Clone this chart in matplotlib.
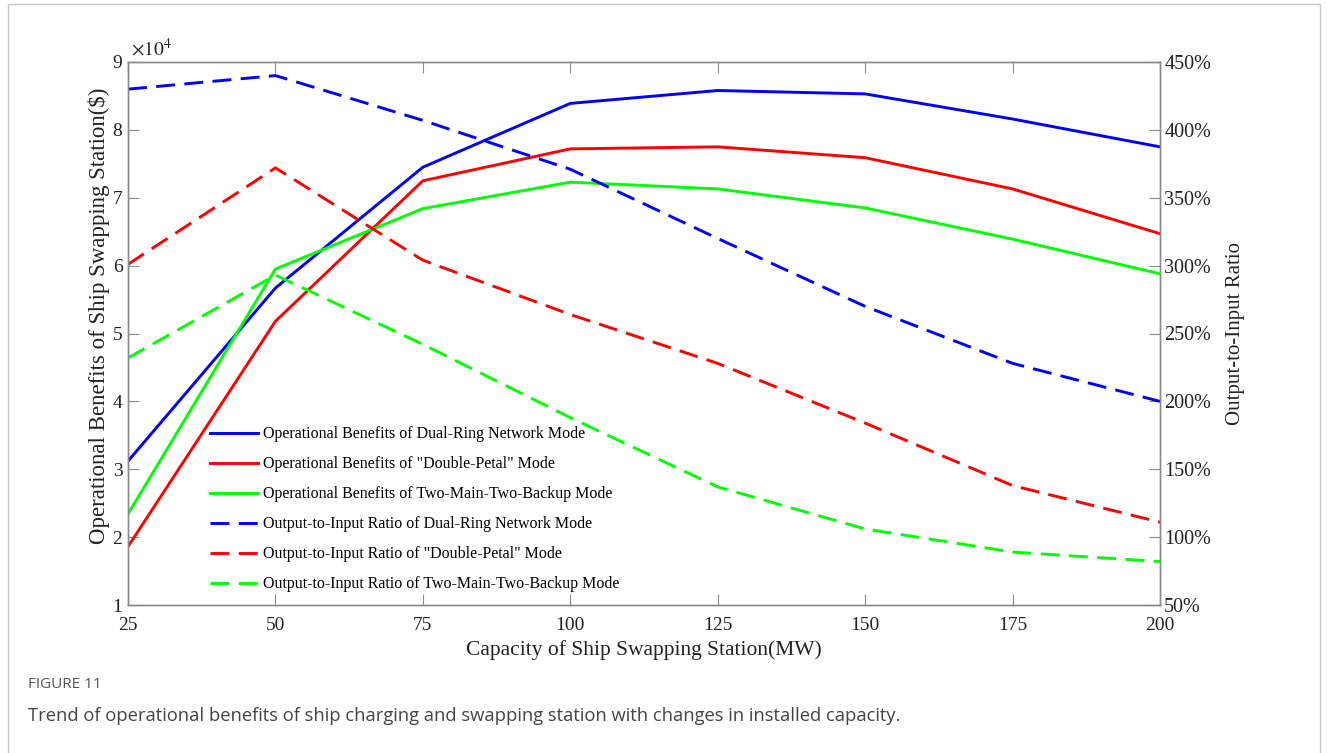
import matplotlib
matplotlib.use("Agg")
import matplotlib.pyplot as plt
from matplotlib.patches import Rectangle
from matplotlib.ticker import FuncFormatter

plt.rcParams['font.family'] = ['Liberation Serif', 'DejaVu Serif']
plt.rcParams['mathtext.fontset'] = 'stix'

# capacity (MW)
capacity = [25, 50, 75, 100, 125, 150, 175, 200]

# operational benefits (x10^4 $)
ben_ring = [3.12, 5.67, 7.45, 8.39, 8.58, 8.53, 8.16, 7.75]
ben_petal = [1.86, 5.18, 7.25, 7.72, 7.75, 7.59, 7.13, 6.47]
ben_tmtb = [2.34, 5.95, 6.84, 7.23, 7.13, 6.85, 6.39, 5.88]

# output-to-input ratio (%)
ratio_ring = [430, 440, 407, 371, 320, 270, 228, 200]
ratio_petal = [301, 372, 304, 264, 228, 184, 138, 111]
ratio_tmtb = [232, 293, 242, 188, 137, 106, 89, 82]

labels = [
    'Operational Benefits of Dual-Ring Network Mode',
    'Operational Benefits of "Double-Petal" Mode',
    'Operational Benefits of Two-Main-Two-Backup Mode',
    'Output-to-Input Ratio of Dual-Ring Network Mode',
    'Output-to-Input Ratio of "Double-Petal" Mode',
    'Output-to-Input Ratio of Two-Main-Two-Backup Mode',
]

blue = '#0000ff'
red = '#ff0000'
green = '#00ff00'
spine_col = '#8a8a8a'
txt_col = '#222222'

fig = plt.figure(figsize=(13.28, 7.53), dpi=100)
fig.patches.append(Rectangle((8 / 1328, -0.05), 1312 / 1328, 1.05 - 4 / 753,
                             transform=fig.transFigure, fill=False,
                             edgecolor='#c8c8c8', linewidth=1.0))

ax = fig.add_axes([128 / 1328, 1 - 605 / 753, 1032 / 1328, 543 / 753])
ax2 = ax.twinx()

lw = 2.1
dash = (0, (6.5, 3.2))
h1, = ax.plot(capacity, ben_ring, color=blue, lw=lw)
h2, = ax.plot(capacity, ben_petal, color=red, lw=lw)
h3, = ax.plot(capacity, ben_tmtb, color=green, lw=lw)
h4, = ax2.plot(capacity, ratio_ring, color=blue, lw=lw, linestyle=dash)
h5, = ax2.plot(capacity, ratio_petal, color=red, lw=lw, linestyle=dash)
h6, = ax2.plot(capacity, ratio_tmtb, color=green, lw=lw, linestyle=dash)

ax.set_xlim(25, 200)
ax.set_ylim(1, 9)
ax2.set_ylim(50, 450)
ax.set_xticks(capacity)
ax.set_yticks(range(1, 10))
ax2.set_yticks(range(50, 451, 50))
ax2.yaxis.set_major_formatter(FuncFormatter(lambda v, p: '%d%%' % v))

for a in (ax, ax2):
    for s in a.spines.values():
        s.set_color(spine_col)
        s.set_linewidth(1.0)
ax.tick_params(axis='x', direction='in', top=True, length=8, color=spine_col,
               labelsize=14, pad=9, labelcolor=txt_col)
ax.tick_params(axis='y', direction='in', length=8, color=spine_col,
               labelsize=14, pad=4, labelcolor=txt_col)
ax2.tick_params(axis='y', direction='in', length=8, color=spine_col,
                labelsize=14.5, pad=3, labelcolor=txt_col)

ax.set_xlabel('Capacity of Ship Swapping Station(MW)', fontsize=15.5, labelpad=4,
              color=txt_col)
ax.set_ylabel('Operational Benefits of Ship Swapping Station($)', fontsize=16.5,
              color=txt_col)
ax.yaxis.set_label_coords(-0.0174, 0.532)
ax2.set_ylabel('Output-to-Input Ratio', fontsize=15, labelpad=11, color=txt_col)
ax.text(0.003, 1.005, r'$\times10^4$', transform=ax.transAxes, fontsize=14,
        ha='left', va='bottom', color=txt_col)

ax2.legend([h1, h2, h3, h4, h5, h6], labels, loc='upper left',
           bbox_to_anchor=(0.0795, 0.329), frameon=False, fontsize=11.5,
           borderpad=0, borderaxespad=0, handlelength=3.0, handletextpad=0.3,
           labelspacing=0.875)

fig.text(28 / 1328, 1 - 685 / 753, 'FIGURE 11', family='Open Sans', fontsize=11,
         color='#555555', va='center', ha='left')
fig.text(28 / 1328, 1 - 716 / 753,
         'Trend of operational benefits of ship charging and swapping station '
         'with changes in installed capacity.',
         family='Open Sans', fontsize=13.2, color='#444444', va='center', ha='left')

fig.savefig('out.png', dpi=100)
